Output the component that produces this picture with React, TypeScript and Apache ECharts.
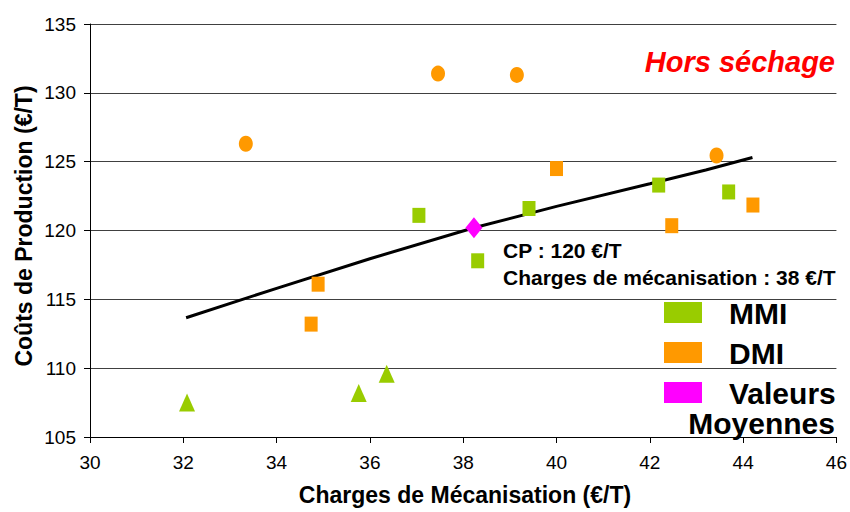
import React, { useEffect, useRef } from "react";
import * as echarts from "echarts";

const xTicks = [30, 32, 34, 36, 38, 40, 42, 44, 46];
const yTicks = [105, 110, 115, 120, 125, 130, 135];

// MMI (green)
const mmiSquares: [number, number][] = [
  [37.05, 121.1],
  [38.31, 117.8],
  [39.41, 121.6],
  [42.19, 123.3],
  [43.69, 122.8],
];
const mmiTriangles: [number, number][] = [
  [32.08, 107.5],
  [35.76, 108.2],
  [36.36, 109.6],
];
// DMI (orange)
const dmiSquares: [number, number][] = [
  [34.89, 116.1],
  [34.74, 113.2],
  [40.0, 124.5],
  [42.47, 120.35],
  [44.21, 121.85],
];
const dmiCircles: [number, number][] = [
  [33.34, 126.3],
  [37.46, 131.4],
  [39.15, 131.3],
  [43.43, 125.45],
];
// Valeurs moyennes
const meanPoint: [number, number][] = [[38.23, 120.2]];
// Courbe de tendance
const trend: [number, number][] = [
  [32.06, 113.66],
  [34.0, 115.8],
  [36.0, 117.95],
  [38.23, 120.2],
  [40.0, 121.75],
  [42.0, 123.4],
  [43.2, 124.4],
  [44.2, 125.3],
];

const legendItems = [
  { name: "MMI", color: "#99CC00" },
  { name: "DMI", color: "#FF9900" },
  { name: "Valeurs", color: "#FF00FF" },
];

const FONT = "'Liberation Sans', Arial, sans-serif";

export default function App() {
  const ref = useRef<HTMLDivElement>(null);
  useEffect(() => {
    if (!ref.current) return;
    const chart = echarts.init(ref.current, undefined, { renderer: "svg" });
    const gridLeft = 90;
    const gridTop = 24;
    const gridRight = 13;
    const gridBottom = 75;

    const graphic: any[] = [];
    legendItems.forEach((it, i) => {
      const cy = 313 + i * 40;
      graphic.push({
        type: "rect",
        shape: { x: 664, y: cy - 11, width: 38, height: 21 },
        style: { fill: it.color },
        z: 10,
      });
      graphic.push({
        type: "text",
        x: 729,
        y: cy,
        style: {
          text: it.name,
          font: `bold 30px ${FONT}`,
          fill: "#000",
          textAlign: "left",
          textVerticalAlign: "middle",
        },
        z: 10,
      });
    });
    graphic.push({
      type: "text",
      x: 835,
      y: 423,
      style: {
        text: "Moyennes",
        font: `bold 30px ${FONT}`,
        fill: "#000",
        textAlign: "right",
        textVerticalAlign: "middle",
      },
      z: 10,
    });
    graphic.push({
      type: "text",
      x: 835,
      y: 62,
      style: {
        text: "Hors séchage",
        font: `italic bold 29px ${FONT}`,
        fill: "#FF0000",
        textAlign: "right",
        textVerticalAlign: "middle",
      },
      z: 10,
    });
    graphic.push({
      type: "text",
      x: 503,
      y: 250,
      style: {
        text: "CP : 120 €/T",
        font: `bold 21px ${FONT}`,
        fill: "#000",
        textAlign: "left",
        textVerticalAlign: "middle",
      },
      z: 10,
    });
    graphic.push({
      type: "text",
      x: 503,
      y: 277,
      style: {
        text: "Charges de mécanisation : 38 €/T",
        font: `bold 21px ${FONT}`,
        fill: "#000",
        textAlign: "left",
        textVerticalAlign: "middle",
      },
      z: 10,
    });
    graphic.push({
      type: "text",
      x: 465,
      y: 495,
      style: {
        text: "Charges de Mécanisation (€/T)",
        font: `bold 23px ${FONT}`,
        fill: "#000",
        textAlign: "center",
        textVerticalAlign: "middle",
      },
      z: 10,
    });
    graphic.push({
      type: "text",
      x: 24,
      y: 226,
      rotation: Math.PI / 2,
      style: {
        text: "Coûts de Production (€/T)",
        font: `bold 23px ${FONT}`,
        fill: "#000",
        textAlign: "center",
        textVerticalAlign: "middle",
      },
      z: 10,
    });

    chart.setOption({
      animation: false,
      backgroundColor: "#fff",
      grid: { left: gridLeft, top: gridTop, right: gridRight, bottom: gridBottom },
      xAxis: {
        type: "value",
        min: xTicks[0],
        max: xTicks[xTicks.length - 1],
        interval: 2,
        axisLine: { show: true, onZero: false, lineStyle: { color: "#000", width: 1 } },
        axisTick: { show: true, inside: false, length: 6, lineStyle: { color: "#000" } },
        axisLabel: { color: "#000", fontSize: 19, fontFamily: FONT, margin: 16 },
        splitLine: { show: false },
      },
      yAxis: {
        type: "value",
        min: yTicks[0],
        max: yTicks[yTicks.length - 1],
        interval: 5,
        axisLine: { show: true, onZero: false, lineStyle: { color: "#000", width: 1 } },
        axisTick: { show: true, inside: false, length: 6, lineStyle: { color: "#000" } },
        axisLabel: { color: "#000", fontSize: 19, fontFamily: FONT, margin: 14 },
        splitLine: { show: true, lineStyle: { color: "#404040", width: 1 } },
      },
      graphic,
      series: [
        {
          type: "line",
          data: trend,
          showSymbol: false,
          symbol: "none",
          smooth: false,
          lineStyle: { color: "#000", width: 3 },
          z: 3,
        },
        {
          type: "scatter",
          data: mmiSquares,
          symbol: "rect",
          symbolSize: [13, 15],
          itemStyle: { color: "#99CC00", opacity: 1 },
          z: 4,
        },
        {
          type: "scatter",
          data: mmiTriangles,
          symbol: "triangle",
          symbolSize: [16, 18],
          itemStyle: { color: "#99CC00", opacity: 1 },
          z: 4,
        },
        {
          type: "scatter",
          data: dmiSquares,
          symbol: "rect",
          symbolSize: [13, 15],
          itemStyle: { color: "#FF9900", opacity: 1 },
          z: 4,
        },
        {
          type: "scatter",
          data: dmiCircles,
          symbol: "circle",
          symbolSize: [14, 16],
          itemStyle: { color: "#FF9900", opacity: 1 },
          z: 4,
        },
        {
          type: "scatter",
          data: meanPoint,
          symbol: "diamond",
          symbolSize: [17, 21],
          itemStyle: { color: "#FF00FF", opacity: 1 },
          z: 5,
        },
      ],
    });
    return () => chart.dispose();
  }, []);
  return (
    <div
      ref={ref}
      style={{ position: "absolute", left: 0, top: 0, width: 850, height: 512 }}
    />
  );
}
